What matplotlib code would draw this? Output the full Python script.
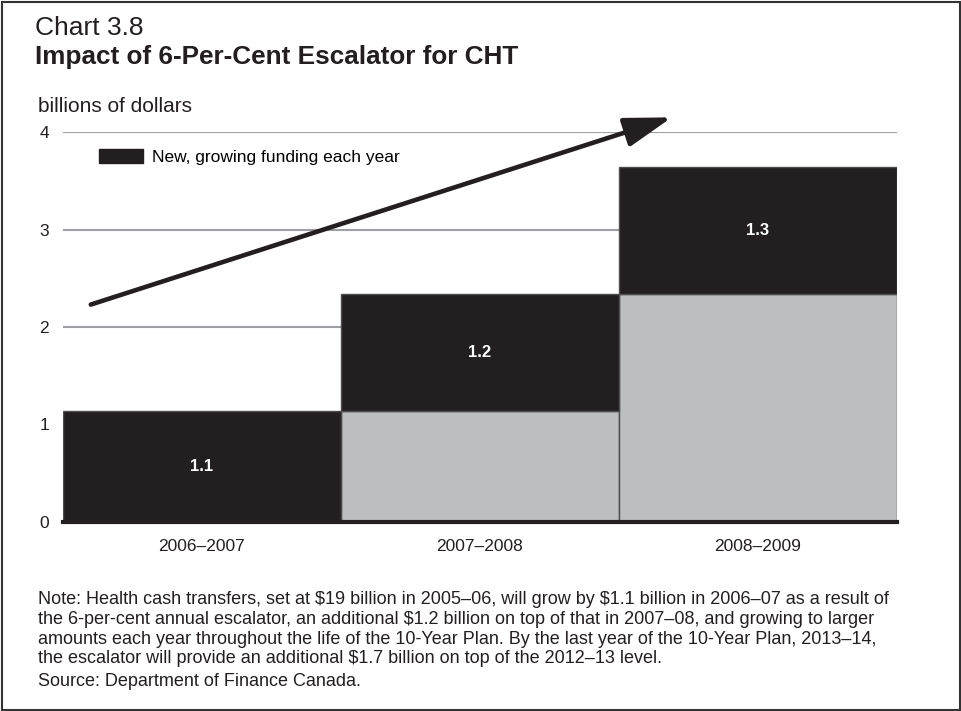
import matplotlib
matplotlib.use("Agg")
import matplotlib.pyplot as plt
from matplotlib.patches import Rectangle, Patch
import numpy as np

plt.rcParams['font.family'] = ['Liberation Sans', 'DejaVu Sans']

# ---- data ----
years = ["2006–2007", "2007–2008", "2008–2009"]
base_funding = [0.0, 1.14, 2.34]        # previous level (gray)
new_funding = [1.14, 1.20, 1.30]        # new, growing funding (black)
bar_labels = ["1.1", "1.2", "1.3"]
y_ticks = [0, 1, 2, 3, 4]
legend_label = "New, growing funding each year"
arrow_start = (-0.40, 2.23)
arrow_end = (1.69, 4.15)

note_lines = [
    "Note: Health cash transfers, set at \\$19 billion in 2005–06, will grow by \\$1.1 billion in 2006–07 as a result of",
    "the 6-per-cent annual escalator, an additional \\$1.2 billion on top of that in 2007–08, and growing to larger",
    "amounts each year throughout the life of the 10-Year Plan. By the last year of the 10-Year Plan, 2013–14,",
    "the escalator will provide an additional \\$1.7 billion on top of the 2012–13 level.",
]
source_text = "Source: Department of Finance Canada."

BLACK = "#231f20"
GRAY = "#bcbec0"
EDGE = "#4d4d4f"

W, H = 962, 711
fig = plt.figure(figsize=(W / 100, H / 100), dpi=100)

left, right, bottom, top = 63, 897, 522, 132
ax = fig.add_axes([left / W, 1 - bottom / H, (right - left) / W, (bottom - top) / H])

x = np.arange(len(years))
ax.bar(x, base_funding, width=1.0, color=GRAY, edgecolor=EDGE, linewidth=1.0, zorder=2)
ax.bar(x, new_funding, width=1.0, bottom=base_funding, color=BLACK, edgecolor=EDGE,
       linewidth=1.0, zorder=2)

for xi, b, n, lab in zip(x, base_funding, new_funding, bar_labels):
    ax.text(xi, b + n / 2, lab, ha='center', va='center', color='white',
            fontsize=12, fontweight='bold', zorder=4)

ax.set_xlim(-0.5, len(years) - 0.5)
ax.set_ylim(0, 4)
ax.set_yticks(y_ticks)
ax.set_yticklabels([str(t) for t in y_ticks], fontsize=12.5, color='#231f20')
ax.set_xticks(x)
ax.set_xticklabels(years, fontsize=12.5, color='#231f20')
ax.tick_params(axis='y', length=0, pad=10)
ax.tick_params(axis='x', length=0, pad=12)

ax.yaxis.grid(True, color='#9d9fa2', linewidth=1.5, zorder=0)
ax.set_axisbelow(True)
for s in ['top', 'right', 'left']:
    ax.spines[s].set_visible(False)
ax.spines['bottom'].set_color(BLACK)
ax.spines['bottom'].set_linewidth(3)
ax.spines['bottom'].set_zorder(3)

# legend
leg = ax.legend([Patch(facecolor=BLACK, edgecolor=BLACK)], [legend_label],
                loc='center left', bbox_to_anchor=(0.043, 0.936), frameon=False,
                fontsize=12.5, handlelength=2.55, handleheight=0.85, handletextpad=0.5,
                borderpad=0, borderaxespad=0)

# arrow
ax.annotate('', xy=arrow_end, xytext=arrow_start, xycoords='data', textcoords='data',
            annotation_clip=False,
            arrowprops=dict(arrowstyle='-|>,head_length=1.45,head_width=0.45',
                            mutation_scale=20, lw=3.3, color=BLACK,
                            shrinkA=0, shrinkB=0), zorder=5)

# titles
fig.text(35 / W, 1 - 28 / H, "Chart 3.8", fontsize=19, ha='left', va='center', color='#231f20')
fig.text(35 / W, 1 - 57 / H, "Impact of 6-Per-Cent Escalator for CHT", fontsize=18.8,
         fontweight='bold', ha='left', va='center', color='#231f20')
fig.text(38 / W, 1 - 107 / H, "billions of dollars", fontsize=15, ha='left', va='center',
         color='#231f20')

# notes
for i, line in enumerate(note_lines):
    fig.text(38 / W, 1 - (600 + 19.5 * i) / H, line, fontsize=13, ha='left', va='center',
             color='#231f20')
fig.text(38 / W, 1 - 682 / H, source_text, fontsize=13, ha='left', va='center',
         color='#231f20')

# border
fig.patches.append(Rectangle((1.5 / W, 1.5 / H), 1 - 3 / W, 1 - 3 / H, transform=fig.transFigure,
                             fill=False, edgecolor='#333333', linewidth=1.5))

fig.savefig("out.png", dpi=100)
